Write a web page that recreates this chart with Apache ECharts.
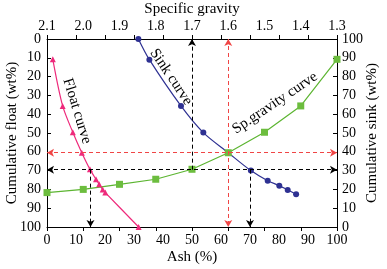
<!DOCTYPE html>
<html>
<head>
<meta charset="utf-8">
<script src="https://cdn.jsdelivr.net/npm/echarts@6/dist/echarts.min.js"></script>
<style>
  body { margin: 0; background: #fff; }
  #chart { width: 387px; height: 269px; }
</style>
</head>
<body>
<div id="chart"></div>
<script>
// float curve: [ash %, cumulative float wt%]
const floatCurve = [
  [2.0, 10.8], [5.4, 35.6], [8.9, 49.6], [12.0, 60.5], [14.8, 69.3],
  [16.9, 74.6], [18.0, 77.3], [19.2, 80.0], [20.1, 81.7], [31.6, 100]
];
// sink curve: [ash %, cumulative sink wt%]
const sinkCurve = [
  [31.5, 100], [35.3, 89], [46.2, 64.4], [53.9, 50.2], [62.5, 39.5],
  [70.3, 30], [76.1, 24.6], [80.1, 22], [83.0, 19.7], [85.9, 17.4]
];
// specific gravity curve: [specific gravity, cumulative float wt%]
const spGravityCurve = [
  [2.1, 81.7], [2.0, 80.0], [1.9, 77.3], [1.8, 74.6], [1.7, 69.3],
  [1.6, 60.5], [1.5, 49.6], [1.4, 35.6], [1.3, 10.8]
];
// guide lines in ash / float units: [x1, y1, x2, y2, arrows]
const blackGuides = [
  [0, 69.5, 100, 69.5, ["arrow", "arrow"]],
  [50, 69.5, 50, 0, ["none", "arrow"]],
  [15, 69.5, 15, 100, ["none", "arrow"]],
  [70, 69.5, 70, 100, ["none", "arrow"]]
];
const redGuides = [
  [0, 60.5, 100, 60.5, ["arrow", "arrow"]],
  [62.5, 0, 62.5, 100, ["arrow", "arrow"]]
];
const curveNames = ["Float curve", "Sink curve", "Sp.gravity curve"];

const serif = "Liberation Serif";
const toMarkLine = (list, color) =>
  list.map((g) => [
    { coord: [g[0], g[1]], symbol: g[4][0], lineStyle: { color: color } },
    { coord: [g[2], g[3]], symbol: g[4][1] },
  ]);

const axisCommon = {
  axisLine: { show: true, lineStyle: { color: "#000", width: 1 } },
  axisTick: { show: true, inside: true, length: 4, lineStyle: { color: "#000" } },
  axisLabel: { color: "#000", fontFamily: serif, fontSize: 14, margin: 6 },
  splitLine: { show: false },
  nameMoveOverlap: false,
  nameTextStyle: { color: "#000", fontFamily: serif, fontSize: 15 },
};

const myChart = echarts.init(document.getElementById("chart"), null, { renderer: "canvas" });
myChart.setOption({
  animation: false,
  grid: { left: 47, right: 50, top: 39, bottom: 42, containLabel: false, outerBoundsMode: "none" },
  xAxis: [
    {
      ...axisCommon,
      type: "value",
      position: "bottom",
      min: 0,
      max: 100,
      interval: 10,
      name: "Ash (%)",
      nameLocation: "middle",
      nameGap: 23,
    },
    {
      ...axisCommon,
      type: "value",
      position: "top",
      inverse: true,
      min: 1.3,
      max: 2.1,
      interval: 0.1,
      name: "Specific gravity",
      nameLocation: "middle",
      nameGap: 22,
      axisLabel: { ...axisCommon.axisLabel, formatter: (v) => v.toFixed(1) },
    },
  ],
  yAxis: [
    {
      ...axisCommon,
      type: "value",
      position: "left",
      inverse: true,
      min: 0,
      max: 100,
      interval: 10,
      name: "Cumulative float (wt%)",
      nameLocation: "middle",
      nameRotate: 90,
      nameGap: 27,
    },
    {
      ...axisCommon,
      type: "value",
      position: "right",
      min: 0,
      max: 100,
      interval: 10,
      name: "Cumulative sink (wt%)",
      nameLocation: "middle",
      nameRotate: 90,
      nameGap: 28,
      axisLabel: { ...axisCommon.axisLabel, margin: 5 },
    },
  ],
  series: [
    {
      name: "Sink curve",
      type: "line",
      xAxisIndex: 0,
      yAxisIndex: 1,
      data: sinkCurve,
      smooth: 0.3,
      symbol: "circle",
      symbolSize: 6,
      lineStyle: { color: "#2e3192", width: 1.2 },
      itemStyle: { color: "#2e3192" },
    },
    {
      name: "Float curve",
      type: "line",
      xAxisIndex: 0,
      yAxisIndex: 0,
      data: floatCurve,
      smooth: 0.3,
      symbol: "triangle",
      symbolSize: 6,
      lineStyle: { color: "#ee2a7b", width: 1.2 },
      itemStyle: { color: "#ee2a7b" },
      markLine: {
        silent: true,
        animation: false,
        symbolSize: [6, 7],
        label: { show: false },
        lineStyle: { type: [4, 3], width: 1, color: "#000" },
        data: toMarkLine(blackGuides, "#000").concat(toMarkLine(redGuides, "#f04545")),
      },
    },
    {
      name: "Sp gravity curve",
      type: "line",
      xAxisIndex: 1,
      yAxisIndex: 0,
      data: spGravityCurve,
      symbol: "rect",
      symbolSize: 7,
      lineStyle: { color: "#5cb531", width: 1.2 },
      itemStyle: { color: "#6cbd3e" },
    },
  ],
  graphic: [
    {
      type: "text",
      x: 77,
      y: 111,
      rotation: (-73 * Math.PI) / 180,
      style: { text: curveNames[0], font: "15px " + serif, fill: "#000", align: "center", verticalAlign: "middle" },
    },
    {
      type: "text",
      x: 171,
      y: 77,
      rotation: (-56 * Math.PI) / 180,
      style: { text: curveNames[1], font: "15px " + serif, fill: "#000", align: "center", verticalAlign: "middle" },
    },
    {
      type: "text",
      x: 275,
      y: 103,
      rotation: (34 * Math.PI) / 180,
      style: { text: curveNames[2], font: "15px " + serif, fill: "#000", align: "center", verticalAlign: "middle" },
    },
  ],
});
</script>
</body>
</html>
